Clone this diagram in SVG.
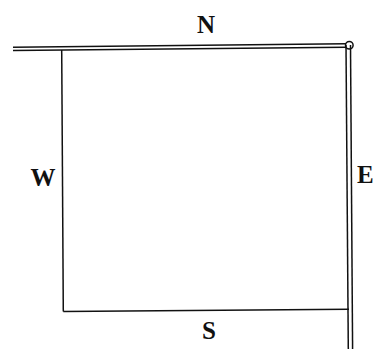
<svg xmlns="http://www.w3.org/2000/svg" width="374" height="349" viewBox="0 0 374 349">
<style>
.l{stroke:#111;stroke-width:1.5;fill:none}
.t{font-family:"Liberation Serif",serif;font-weight:bold;font-size:25px;fill:#111;text-anchor:middle}
</style>
<rect width="374" height="349" fill="#fff"/>
<g id="connectors">
<line class="l" x1="13" y1="47.3" x2="346" y2="43.8"/>
<line class="l" x1="13" y1="50.6" x2="346" y2="47.2"/>
<line class="l" x1="346" y1="45" x2="348.3" y2="349"/>
<line class="l" x1="350.5" y1="45" x2="352.6" y2="349"/>
<line class="l" x1="61.7" y1="50" x2="63.3" y2="311.5"/>
<line class="l" x1="63.3" y1="311.5" x2="349" y2="309.3"/>
<circle class="l" cx="349.3" cy="45.3" r="3.8" fill="#fff"/>
</g>
<g id="N"><text class="t" x="206" y="33">N</text></g>
<g id="W"><text class="t" x="43" y="186">W</text></g>
<g id="S"><text class="t" x="209" y="339">S</text></g>
<g id="E"><text class="t" x="357" y="183" style="text-anchor:start">E</text></g>
</svg>
